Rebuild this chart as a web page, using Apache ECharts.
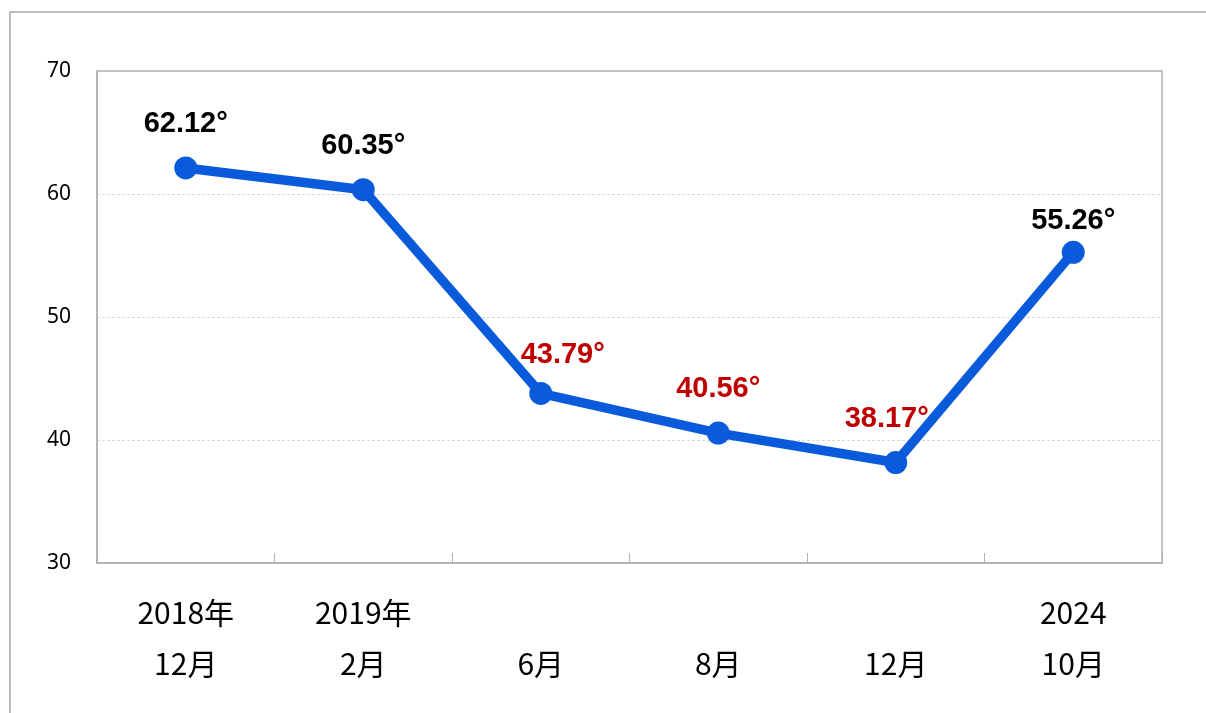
<!DOCTYPE html>
<html>
<head>
<meta charset="utf-8">
<script src="https://cdn.jsdelivr.net/npm/echarts@6/dist/echarts.min.js"></script>
<style>
  html, body { margin: 0; padding: 0; background: #fff; }
  #chart { width: 1206px; height: 713px; }
</style>
</head>
<body>
<div id="chart"></div>
<script>
// Period labels (two lines each: year / month)
const categories = ['2018年\n12月', '2019年\n2月', '\n6月', '\n8月', '\n12月', '2024\n10月'];
// Measured angle (degrees) for each period
const angles = [62.12, 60.35, 43.79, 40.56, 38.17, 55.26];
// Points whose label is highlighted in red
const highlighted = [false, false, true, true, true, false];
// Value-axis range
const yMin = 30, yMax = 70, yStep = 10;

// Small per-point nudges so labels clear the line
const labelOffsets = [[0, 0], [0, 0], [22, 6], [0, 0], [-9, 0], [0, 13]];

const chart = echarts.init(document.getElementById('chart'));

const seriesData = angles.map((v, i) => ({
  value: v,
  label: {
    color: highlighted[i] ? '#c00000' : '#000000',
    offset: labelOffsets[i]
  }
}));

chart.setOption({
  backgroundColor: '#ffffff',
  animation: false,
  graphic: [{
    type: 'rect',
    shape: { x: 10, y: 12, width: 1400, height: 900 },
    style: { fill: 'none', stroke: '#a6a6a6', lineWidth: 1.5 },
    silent: true,
    z: -1
  }],
  grid: {
    left: 97, top: 71, right: 44, bottom: 150,
    show: true,
    borderColor: '#b0b0b0',
    borderWidth: 1.5,
    backgroundColor: 'transparent'
  },
  xAxis: {
    type: 'category',
    data: categories,
    boundaryGap: true,
    axisLine: { show: true, lineStyle: { color: '#b0b0b0', width: 1.5 } },
    axisTick: { show: true, inside: true, length: 10, lineStyle: { color: '#b0b0b0', width: 1 } },
    axisLabel: {
      margin: 24,
      color: '#000',
      fontSize: 30,
      lineHeight: 51,
      fontFamily: '"Noto Sans CJK JP", "Noto Sans", sans-serif'
    },
    splitLine: { show: false }
  },
  yAxis: {
    type: 'value',
    min: yMin, max: yMax, interval: yStep,
    axisLine: { show: true, lineStyle: { color: '#b0b0b0', width: 1.5 } },
    axisTick: { show: false },
    axisLabel: {
      margin: 26,
      color: '#000',
      fontSize: 21,
      fontFamily: '"Noto Sans", sans-serif'
    },
    splitLine: {
      show: true,
      showMinLine: false,
      showMaxLine: false,
      lineStyle: { color: '#d9d9d9', type: [3, 2], width: 1 }
    }
  },
  series: [{
    type: 'line',
    data: seriesData,
    lineStyle: { color: '#0a5adc', width: 9.5 },
    itemStyle: { color: '#0a5adc' },
    symbol: 'circle',
    symbolSize: 23,
    label: {
      show: true,
      position: 'top',
      distance: 18,
      fontSize: 29,
      fontWeight: 'bold',
      fontFamily: '"Liberation Sans", Arial, sans-serif',
      formatter: p => p.value.toFixed(2) + '°'
    }
  }]
});
</script>
</body>
</html>
